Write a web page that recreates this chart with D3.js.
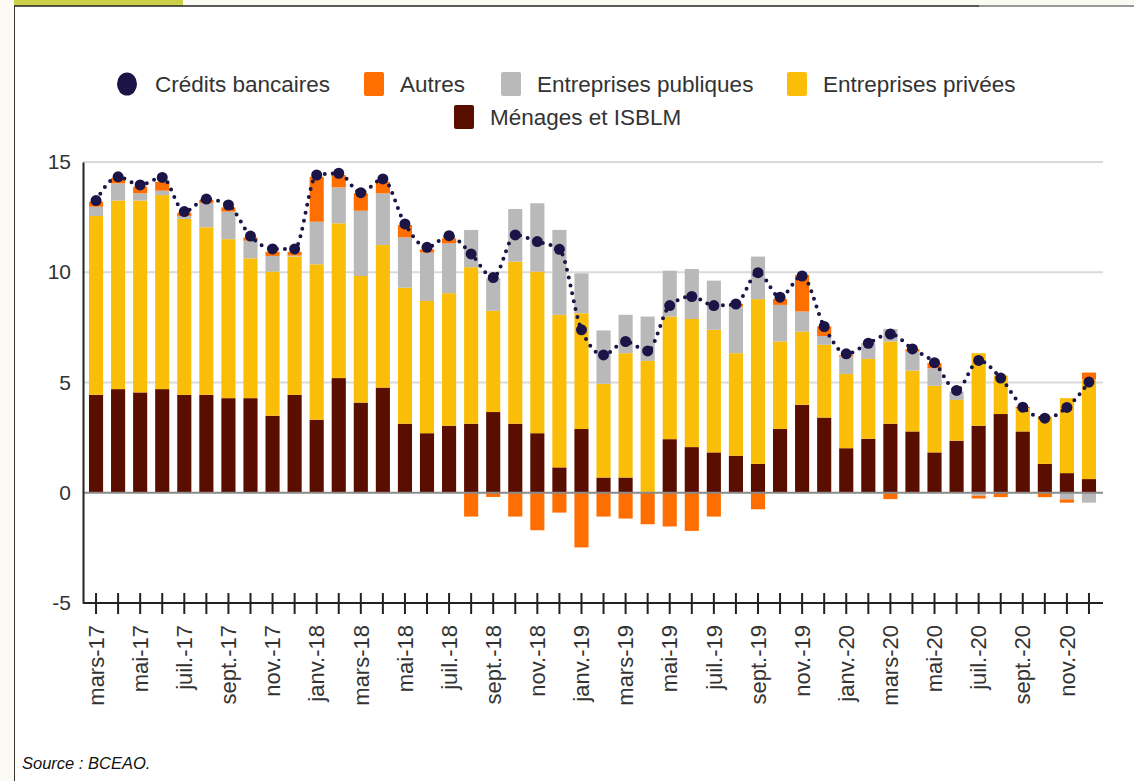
<!DOCTYPE html>
<html>
<head>
<meta charset="utf-8">
<script src="https://cdn.jsdelivr.net/npm/d3@7"></script>
<style>
  body { margin: 0; background: #fbfbf3; }
  svg { display: block; font-family: "Liberation Sans", Arial, sans-serif; }
</style>
</head>
<body>
<script>
// months, mars-17 to déc.-20
let monthNames = ["janv.", "févr.", "mars", "avr.", "mai", "juin", "juil.", "août", "sept.", "oct.", "nov.", "déc."];
let months = [];
for (let i = 0; i < 46; i++) {
  let m = (2 + i) % 12;
  let yr = 17 + Math.floor((2 + i) / 12);
  months.push(monthNames[m] + "-" + yr);
}

let menages = [4.44, 4.7, 4.55, 4.7, 4.44, 4.44, 4.29, 4.29, 3.49, 4.44,
  3.31, 5.2, 4.09, 4.77, 3.13, 2.7, 3.04, 3.13, 3.66, 3.13, 2.7, 1.15,
  2.89, 0.69, 0.69, 0, 2.43, 2.07, 1.83, 1.68, 1.31, 2.89, 3.99, 3.41,
  2.02, 2.45, 3.13, 2.78, 1.83, 2.36, 3.04, 3.57, 2.78, 1.31, 0.89, 0.62];
let privees = [8.11, 8.55, 8.7, 8.8, 7.98, 7.6, 7.21, 6.34, 6.54, 6.27,
  7.05, 7.02, 5.74, 6.47, 6.17, 6.0, 6.01, 7.1, 4.59, 7.35, 7.33, 6.92,
  5.25, 4.25, 5.64, 5.98, 5.56, 5.81, 5.56, 4.65, 7.47, 3.97, 3.32, 3.3,
  3.37, 3.62, 3.73, 2.76, 3.02, 1.85, 3.29, 1.75, 1.06, 2.15, 3.4, 4.53];
let publiques = [0.42, 0.78, 0.33, 0.2, 0.13, 1.09, 1.25, 0.8, 0.71, 0.05,
  1.93, 1.63, 2.96, 2.34, 2.28, 2.19, 2.26, 1.69, 1.48, 2.39, 3.1, 3.85,
  1.81, 2.42, 1.74, 2.01, 2.08, 2.27, 2.23, 2.11, 1.93, 1.66, 0.91, 0.4,
  0.79, 0.71, 0.57, 0.86, 0.8, 0.38, -0.13, 0, 0, 0, -0.3, -0.45];
let autres = [0.23, 0.25, 0.3, 0.4, 0.15, 0.15, 0.19, 0.15, 0.19, 0.17,
  2.04, 0.56, 0.79, 0.52, 0.56, 0.15, 0.23, -1.08, -0.19, -1.08, -1.7, -0.9,
  -2.48, -1.08, -1.17, -1.43, -1.53, -1.73, -1.08, 0.12, -0.75, 0.27, 1.66, 0.43,
  0.07, 0, -0.29, 0.11, 0.23, 0, -0.13, -0.2, 0.06, -0.2, -0.15, 0.3];
let credits = [13.25, 14.33, 13.96, 14.3, 12.75, 13.32, 13.05, 11.64, 11.06, 11.06,
  14.41, 14.49, 13.61, 14.23, 12.19, 11.13, 11.66, 10.83, 9.76, 11.69, 11.39, 11.04,
  7.39, 6.25, 6.86, 6.43, 8.49, 8.9, 8.49, 8.56, 9.98, 8.87, 9.83, 7.54,
  6.3, 6.78, 7.2, 6.52, 5.9, 4.64, 6.0, 5.2, 3.88, 3.38, 3.87, 5.02];

let yTicks = [-5, 0, 5, 10, 15];

let keys = ["menages", "privees", "publiques", "autres"];
let colors = { menages: "#5a0e00", privees: "#fbbe08", publiques: "#b9b9b9", autres: "#ff6e00" };

let rows = months.map((m, i) => ({
  month: m, menages: menages[i], privees: privees[i], publiques: publiques[i], autres: autres[i]
}));

let svg = d3.select("body")
  .append("svg")
  .attr("width", 1134)
  .attr("height", 781);

// page frame
svg.append("rect").attr("x", 14).attr("y", 6).attr("width", 1120).attr("height", 775).style("fill", "white");
svg.append("rect").attr("x", 14).attr("y", 0).attr("width", 169).attr("height", 6).style("fill", "#cbcf4a");
svg.append("line").attr("x1", 14).attr("x2", 979).attr("y1", 6).attr("y2", 6).style("stroke", "#222").style("stroke-width", 1.5);
svg.append("line").attr("x1", 979).attr("x2", 1134).attr("y1", 6).attr("y2", 6).style("stroke", "#777").style("stroke-width", 1.5);
svg.append("line").attr("x1", 14.5).attr("x2", 14.5).attr("y1", 6).attr("y2", 781).style("stroke", "#333").style("stroke-width", 1);

let x = d3.scaleBand().domain(months).range([85, 1100]).paddingInner(0.36).paddingOuter(0.18);
let y = d3.scaleLinear().domain([-5, 15]).range([603, 162]);

// gridlines
svg.append("g")
  .selectAll("line")
  .data(yTicks.filter(d => d > 0))
  .join("line")
  .attr("x1", 83).attr("x2", 1103)
  .attr("y1", d => y(d)).attr("y2", d => y(d))
  .style("stroke", "#dadada")
  .style("stroke-width", 2);

// stacked bars
let series = d3.stack().keys(keys).offset(d3.stackOffsetDiverging)(rows);
svg.append("g")
  .selectAll("g")
  .data(series)
  .join("g")
  .style("fill", d => colors[d.key])
  .selectAll("rect")
  .data(d => d)
  .join("rect")
  .attr("x", d => x(d.data.month))
  .attr("width", x.bandwidth())
  .attr("y", d => y(Math.max(d[0], d[1])))
  .attr("height", d => Math.abs(y(d[0]) - y(d[1])));

// zero line
svg.append("line")
  .attr("x1", 83).attr("x2", 1103)
  .attr("y1", y(0)).attr("y2", y(0))
  .style("stroke", "#8a8a8a")
  .style("stroke-width", 2);

// y axis
let yAxis = svg.append("g")
  .attr("transform", "translate(83,0)")
  .call(d3.axisLeft(y).tickValues(yTicks).tickSize(0).tickPadding(12).tickFormat(d => String(d)));
yAxis.select(".domain").style("stroke", "#222").style("stroke-width", 2);
yAxis.selectAll("text").style("font-size", "21px").style("fill", "#333").style("font-family", "Liberation Sans, Arial, sans-serif");

// x axis at -5
let xAxis = svg.append("g")
  .attr("transform", "translate(0," + y(-5) + ")")
  .call(d3.axisBottom(x).tickSizeInner(11).tickSizeOuter(0).tickFormat((d, i) => i % 2 === 0 ? d : ""));
xAxis.select(".domain").attr("d", "M83,0H1103").style("stroke", "#222").style("stroke-width", 2);
xAxis.selectAll(".tick line").attr("y1", -10).attr("y2", 11).style("stroke", "#222").style("stroke-width", 2);
xAxis.selectAll("text")
  .attr("transform", "rotate(-90)")
  .attr("text-anchor", "end")
  .attr("x", -22)
  .attr("y", 0)
  .attr("dy", "0.35em")
  .style("font-size", "22px")
  .style("fill", "#333")
  .style("font-family", "Liberation Sans, Arial, sans-serif");

// crédits bancaires dotted line + dots
let line = d3.line()
  .x((d, i) => x(months[i]) + x.bandwidth() / 2)
  .y(d => y(d))
  .curve(d3.curveMonotoneX);
svg.append("path")
  .datum(credits)
  .attr("d", line)
  .style("fill", "none")
  .style("stroke", "#1b1446")
  .style("stroke-width", 4)
  .style("stroke-linecap", "round")
  .style("stroke-dasharray", "0,8");
svg.append("g")
  .selectAll("circle")
  .data(credits)
  .join("circle")
  .attr("cx", (d, i) => x(months[i]) + x.bandwidth() / 2)
  .attr("cy", d => y(d))
  .attr("r", 5.5)
  .style("fill", "#1b1446");

// legend
let legend1 = [
  { label: "Crédits bancaires", key: "credits", x: 127 },
  { label: "Autres", key: "autres", x: 374 },
  { label: "Entreprises publiques", key: "publiques", x: 511 },
  { label: "Entreprises privées", key: "privees", x: 797 },
  { label: "Ménages et ISBLM", key: "menages", x: 464, row: 1 }
];
let lg = svg.append("g").selectAll("g")
  .data(legend1)
  .join("g")
  .attr("transform", d => "translate(" + d.x + "," + (d.row ? 117 : 84) + ")");
lg.filter(d => d.key === "credits")
  .append("ellipse").attr("rx", 10).attr("ry", 11.5).style("fill", "#1b1446");
lg.filter(d => d.key !== "credits")
  .append("rect").attr("x", -10).attr("y", -12).attr("width", 20).attr("height", 24).attr("rx", 2)
  .style("fill", d => colors[d.key]);
lg.append("text")
  .attr("x", d => d.key === "credits" ? 28 : 26)
  .attr("dy", "0.35em")
  .style("font-size", "22.5px")
  .style("fill", "#333")
  .text(d => d.label);

// source
svg.append("text")
  .attr("x", 22).attr("y", 769)
  .style("font-size", "16.5px")
  .style("font-style", "italic")
  .style("fill", "#111")
  .text("Source : BCEAO.");
</script>
</body>
</html>
